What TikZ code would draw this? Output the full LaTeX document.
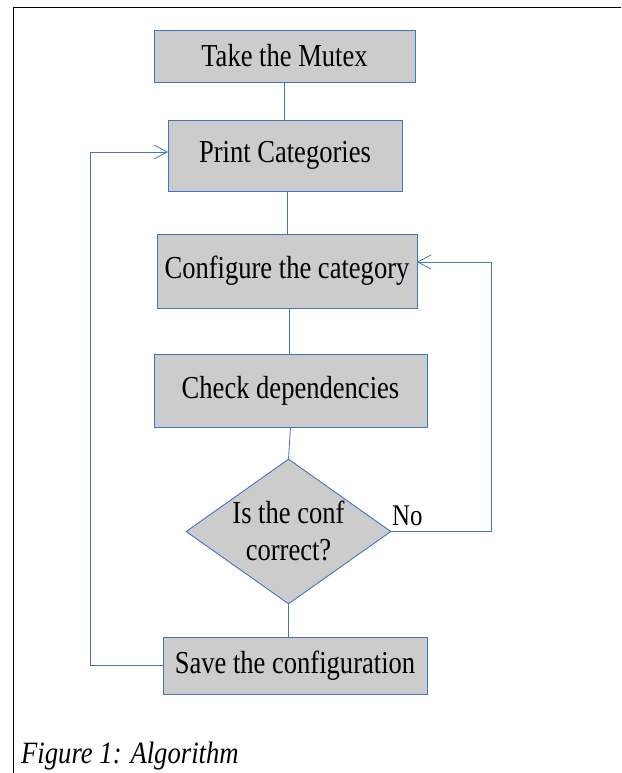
\documentclass[tikz,border=0pt]{standalone}
\usepackage{fontspec}
\setmainfont[FakeStretch=0.83]{Liberation Serif}
\newfontfamily\capfont[FakeStretch=0.86]{Liberation Serif}
\usetikzlibrary{arrows.meta,shapes.geometric}
\definecolor{boxfill}{HTML}{CCCCCC}
\definecolor{lineblue}{HTML}{4472C4}
\tikzset{
  procbox/.style={draw=lineblue, line width=0.9pt, fill=boxfill, rectangle, inner sep=0pt,
    font=\fontsize{32}{37}\selectfont, text=black},
  decbox/.style={draw=lineblue, line width=0.9pt, fill=boxfill, diamond, inner sep=0pt},
  conn/.style={draw=lineblue, line width=0.8pt},
  arr/.style={conn, -{Straight Barb[length=13pt,width=14pt,line width=0.8pt]}},
}
\begin{document}
\begin{tikzpicture}[x=1pt,y=-1pt]
\useasboundingbox (0,0) rectangle (621,773);
\draw[black, line width=0.8pt] (13,773) -- (13,7) -- (621,7);

\node[procbox, minimum width=261pt, minimum height=52pt] (take) at (284.5,56) {Take the Mutex};
\node[procbox, minimum width=234pt, minimum height=71pt] (print) at (285,155.5) {Print Categories};
\node[procbox, minimum width=260pt, minimum height=74pt] (config) at (287,271) {Configure the category};
\node[procbox, minimum width=273pt, minimum height=73pt] (check) at (290.5,390.5) {Check dependencies};
\node[decbox, minimum width=205pt, minimum height=145pt] (dec) at (288.5,531.5) {};
\node[align=center, font=\fontsize{32}{37}\selectfont, inner sep=0pt] (dectext) at (288.5,531) {Is the conf\\correct?};
\node[procbox, minimum width=264pt, minimum height=57pt] (save) at (295,665.5) {Save the configuration};

\node[anchor=base west, inner sep=0pt, font=\fontsize{30}{36}\selectfont] (no) at (392,525) {No};
\node[anchor=base west, inner sep=0pt, font=\capfont\itshape\fontsize{31}{36}\selectfont] (cap) at (21,763) {Figure 1: Algorithm};

\coordinate (r1) at (491,531.5);
\coordinate (r2) at (417,262);
\coordinate (l1) at (90,665.5);
\coordinate (l2) at (168,152);

\draw[conn] (take.south) -- (take.south |- print.north);
\draw[conn] (print.south -| config.north) -- (config.north);
\draw[conn] (config.south -| 289,0) -- (check.north -| 289,0);
\draw[conn] (check.south) -- (dec.north);
\draw[conn] (dec.south) -- (dec.south |- save.north);
\draw[arr] (dec.east) -- (r1) |- (r2);
\draw[arr] (save.west) -- (l1) |- (l2);
\end{tikzpicture}
\end{document}
